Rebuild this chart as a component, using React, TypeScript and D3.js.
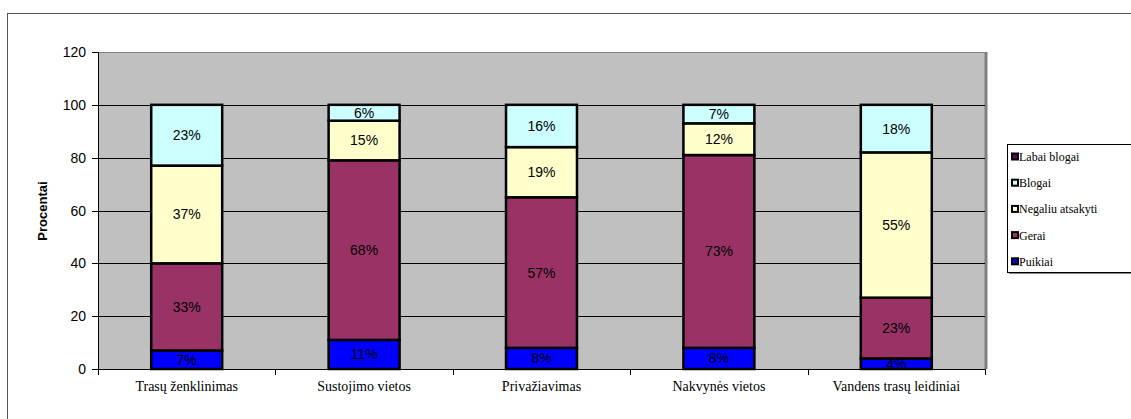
import React from "react";
import * as d3 from "d3";

const categories = ["Trasų ženklinimas", "Sustojimo vietos", "Privažiavimas", "Nakvynės vietos", "Vandens trasų leidiniai"];
const seriesNames = ["Puikiai", "Gerai", "Negaliu atsakyti", "Blogai", "Labai blogai"];
const puikiai = [7, 11, 8, 8, 4];
const gerai = [33, 68, 57, 73, 23];
const negaliu = [37, 15, 19, 12, 55];
const blogai = [23, 6, 16, 7, 18];
const labaiBlogai = [0, 0, 0, 0, 0];
const yTicks = [0, 20, 40, 60, 80, 100, 120];
const colors = ["#0000FF", "#993366", "#FFFFCC", "#CCFFFF", "#660066"];

const SANS = "'Liberation Sans', Arial, sans-serif";
const SERIF = "'Liberation Serif', 'Times New Roman', serif";

export default function App() {
  const W = 1131, H = 419;
  const left = 98, right = 985, top = 52, bottom = 369;
  const x = d3.scaleBand<string>().domain(categories).range([left, right]).paddingInner(0.6).paddingOuter(0.3);
  const y = d3.scaleLinear().domain([0, 120]).range([bottom, top]);
  const values = [puikiai, gerai, negaliu, blogai, labaiBlogai];
  const table = categories.map((c, i) => {
    const o: any = { cat: c };
    seriesNames.forEach((s, k) => (o[s] = values[k][i]));
    return o;
  });
  const stacked = d3.stack<any>().keys(seriesNames)(table);
  const catStep = (right - left) / categories.length;
  const legendItems = [...seriesNames].reverse();
  return (
    <svg width={W} height={H} style={{ position: "absolute", left: 0, top: 0 }}>
      <rect x={0} y={0} width={W} height={H} fill="#fff" />
      <rect x={7.5} y={13.5} width={1140} height={420} fill="none" stroke="#555" strokeWidth={1} />
      <rect x={left} y={top} width={right - left} height={bottom - top} fill="#C0C0C0" />
      <line x1={left} x2={right} y1={top + 0.5} y2={top + 0.5} stroke="#808080" />
      <line x1={right + 1} x2={right + 1} y1={top} y2={bottom} stroke="#808080" strokeWidth={3} />
      {yTicks.filter(t => t > 0 && t < 120).map(t => (
        <line key={t} x1={left} x2={right} y1={Math.round(y(t)) + 0.5} y2={Math.round(y(t)) + 0.5} stroke="#000" strokeWidth={1} />
      ))}
      {stacked.map((s, k) =>
        s.map((d, i) => {
          const v = d[1] - d[0];
          if (v <= 0) return null;
          const bx = x(categories[i])!;
          const y0 = y(d[0]);
          const y1 = y(d[1]);
          return (
            <g key={`${k}-${i}`}>
              <rect x={bx} y={y1} width={x.bandwidth()} height={y0 - y1} fill={colors[k]} stroke="#000" strokeWidth={2.5} />
              <text x={bx + x.bandwidth() / 2} y={(y0 + y1) / 2 + 5} textAnchor="middle" fontFamily={SANS} fontSize={14} fill="#000">{`${v}%`}</text>
            </g>
          );
        })
      )}
      <line x1={left + 0.5} x2={left + 0.5} y1={top} y2={bottom} stroke="#000" />
      <line x1={left} x2={right} y1={bottom + 0.5} y2={bottom + 0.5} stroke="#000" />
      {yTicks.map(t => (
        <g key={t}>
          <line x1={left - 6} x2={left} y1={Math.round(y(t)) + 0.5} y2={Math.round(y(t)) + 0.5} stroke="#000" />
          <text x={left - 12} y={y(t) + 5} textAnchor="end" fontFamily={SANS} fontSize={14} fill="#000">{t}</text>
        </g>
      ))}
      {d3.range(categories.length + 1).map(i => (
        <line key={i} x1={Math.round(left + i * catStep) + 0.5} x2={Math.round(left + i * catStep) + 0.5} y1={bottom} y2={bottom + 6} stroke="#000" />
      ))}
      {categories.map(c => (
        <text key={c} x={x(c)! + x.bandwidth() / 2} y={391} textAnchor="middle" fontFamily={SERIF} fontSize={14} fill="#000">{c}</text>
      ))}
      <text transform={`translate(47,211) rotate(-90)`} textAnchor="middle" fontFamily={SANS} fontSize={13} fontWeight="bold" fill="#000">Procentai</text>
      <rect x={1007.5} y={144.5} width={125} height={128} fill="#fff" stroke="#000" />
      <line x1={1009} x2={1131} y1={273.5} y2={273.5} stroke="#888" />
      {legendItems.map((s, i) => {
        const cy = 157 + i * 26.2;
        const k = seriesNames.indexOf(s);
        return (
          <g key={s}>
            <rect x={1012} y={cy - 3.5} width={6} height={6} fill={colors[k]} stroke="#000" strokeWidth={2} />
            <text x={1019} y={cy + 4} fontFamily={SERIF} fontSize={12} fill="#000">{s}</text>
          </g>
        );
      })}
    </svg>
  );
}
